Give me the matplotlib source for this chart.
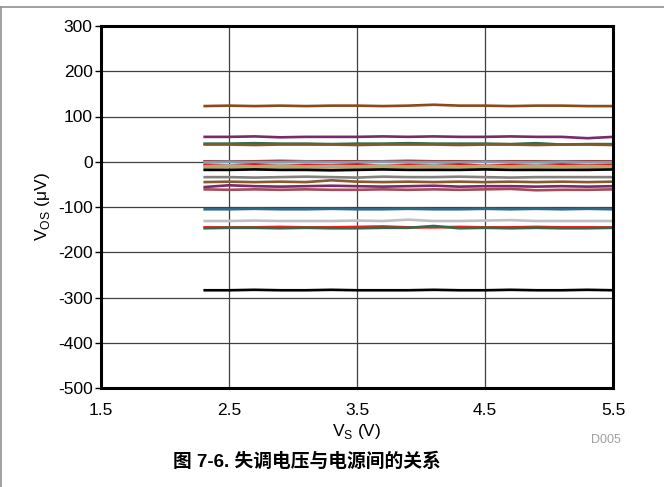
import matplotlib
matplotlib.use('Agg')
import numpy as np
import matplotlib.pyplot as plt
from matplotlib.lines import Line2D

plt.rcParams['font.family'] = ['Liberation Sans', 'Noto Sans CJK SC']
plt.rcParams['mathtext.fontset'] = 'custom'
plt.rcParams['mathtext.rm'] = 'Liberation Sans'
plt.rcParams['axes.unicode_minus'] = False

# supply voltage points (V)
vs = [2.3, 2.5, 2.7, 2.9, 3.1, 3.3, 3.5, 3.7, 3.9, 4.1, 4.3, 4.5, 4.7, 4.9, 5.1, 5.3, 5.5]

# offset voltage per unit (uV)
vos_01 = [123, 124, 123, 124, 123, 124, 124, 123, 124, 126, 124, 124, 123, 124, 124, 123, 123]
vos_02 = [55, 55, 56, 54, 55, 55, 55, 56, 55, 56, 55, 55, 56, 55, 55, 52, 55]
vos_03 = [40, 40, 41, 40, 40, 39, 40, 40, 41, 40, 40, 40, 39, 41, 38, 39, 39]
vos_04 = [38, 38, 37, 38, 38, 38, 37, 38, 38, 38, 37, 38, 38, 37, 38, 38, 37]
vos_05 = [1, 1, 1, 2, 1, 1, 1, 1, 2, 1, 1, 1, 1, 1, 1, 1, 1]
vos_06 = [-1, 0, -1, -1, 0, -1, -1, 0, -1, -1, -1, 0, -1, -1, 0, -1, -1]
vos_07 = [-7, -8, -6, -9, -7, -8, -6, -9, -7, -8, -6, -9, -7, -8, -6, -8, -7]
vos_08 = [-10, -8, -10, -8, -10, -9, -10, -8, -10, -8, -10, -9, -10, -8, -10, -9, -10]
vos_09 = [-13, -12, -13, -12, -13, -14, -13, -12, -12, -13, -12, -13, -12, -13, -12, -13, -12]
vos_10 = [-18, -18, -17, -18, -18, -19, -18, -17, -18, -18, -18, -17, -18, -18, -18, -18, -17]
vos_11 = [-34, -34, -35, -34, -33, -34, -35, -33, -34, -34, -33, -34, -35, -34, -34, -34, -34]
vos_12 = [-45, -44, -45, -44, -45, -41, -44, -45, -44, -45, -44, -45, -44, -45, -44, -45, -44]
vos_13 = [-56, -52, -54, -55, -54, -53, -54, -55, -54, -53, -55, -54, -54, -55, -54, -55, -54]
vos_14 = [-61, -62, -61, -62, -61, -62, -62, -61, -62, -61, -62, -61, -60, -63, -62, -62, -61]
vos_15 = [-105, -105, -104, -105, -105, -104, -105, -105, -104, -105, -105, -104, -105, -104, -105, -104, -105]
vos_16 = [-131, -131, -130, -131, -131, -131, -130, -131, -128, -131, -131, -130, -129, -131, -131, -131, -131]
vos_17 = [-145, -145, -145, -144, -145, -145, -144, -143, -145, -145, -144, -145, -145, -144, -145, -145, -145]
vos_18 = [-147, -146, -146, -147, -146, -147, -147, -146, -146, -142, -147, -146, -147, -146, -147, -147, -146]
vos_19 = [-284, -284, -283, -284, -284, -283, -284, -284, -284, -283, -284, -284, -283, -284, -284, -283, -284]

series = [vos_01, vos_02, vos_03, vos_04, vos_05, vos_06, vos_07, vos_08, vos_09, vos_10,
          vos_11, vos_12, vos_13, vos_14, vos_15, vos_16, vos_17, vos_18, vos_19]
colors = ['#8c4a1c', '#7a2a6a', '#2e6b50', '#7f5a2a', '#9a3b3b', '#7aa0b4', '#ff0000',
          '#a8a8a8', '#b8a860', '#000000', '#808080', '#8b5a2b', '#7a2a6a', '#a84a5a',
          '#2f6a8a', '#c0c0c0', '#ff1a1a', '#2e6b50', '#000000']

fig = plt.figure(figsize=(6.64, 4.87), dpi=100)
ax = fig.add_axes([101/664, 1 - 388/487, 512/664, 362/487])

for y, c in zip(series, colors):
    ax.plot(vs, y, color=c, lw=1.9, solid_capstyle='butt')

ax.set_xlim(1.5, 5.5)
ax.set_ylim(-500, 300)
ax.set_xticks([1.5, 2.5, 3.5, 4.5, 5.5])
ax.set_xticklabels(['1.5', '2.5', '3.5', '4.5', '5.5'])
ax.set_yticks(np.arange(-500, 301, 100))
ax.grid(True, color='#404040', lw=0.9)
ax.tick_params(axis='x', length=0, pad=11, labelsize=12.5)
ax.tick_params(axis='y', length=4, width=1, pad=2, labelsize=12.5)
for s in ax.spines.values():
    s.set_linewidth(2.2)

ax.set_xlabel('V$_{\\mathrm{S}}$ (V)', fontsize=12.5, labelpad=3)
ax.set_ylabel('V$_{\\mathrm{OS}}$ ($\\mathrm{\\mu}$V)', fontsize=12.5, labelpad=4)

fig.text(606/664, 1 - 440/487, 'D005', color='#a0a0a0', fontsize=9, ha='center', va='center')
fig.text(307/664, 1 - 462/487, '图 7-6. 失调电压与电源间的关系', fontsize=13.5,
         fontweight='bold', ha='center', va='center')

# page border lines
fig.add_artist(Line2D([0, 1], [1 - 7/487, 1 - 7/487], color='#909090', lw=1.2))
fig.add_artist(Line2D([1/664, 1/664], [0, 1 - 7/487], color='#909090', lw=1.2))

fig.savefig('out.png', dpi=100)
